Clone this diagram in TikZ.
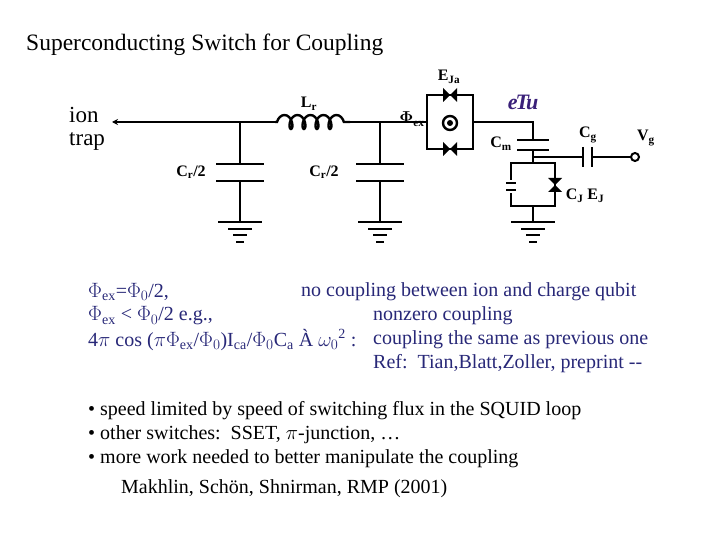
\documentclass[tikz,border=0pt]{standalone}
\usepackage{amsmath,amssymb,bm}
\usepackage{fontspec}
\setmainfont{Liberation Serif}
\usetikzlibrary{decorations.pathmorphing,arrows.meta}
\definecolor{txtblue}{RGB}{40,40,120}
\begin{document}
\begin{tikzpicture}[x=1pt,y=-1pt,line width=2.4pt,
  lbl/.style={font=\bfseries\fontsize{16}{16}\selectfont,inner sep=0pt},
  body/.style={font=\fontsize{20}{20}\selectfont,anchor=west,inner sep=0pt,text=txtblue},
  bul/.style={font=\fontsize{20}{20}\selectfont,anchor=west,inner sep=0pt},
  gnd/.pic={\draw (-22,0)--(22,0); \draw[line width=1.8pt] (-12,7)--(12,7); \draw[line width=1.8pt](-7,13)--(7,13); \draw[line width=2pt](-4,20)--(4,20);}]
\useasboundingbox (0,0) rectangle (720,540);
\fill[white] (0,0) rectangle (720,540);
\node[font=\fontsize{23.5}{23.5}\selectfont,anchor=west,inner sep=0pt] (title) at (25,45) {Superconducting Switch for Coupling};
\node[font=\fontsize{23}{23}\selectfont,align=left,anchor=west,inner sep=0pt] (ion) at (68,129) {ion\\[0pt]trap};
% main wire
\coordinate (tip) at (112,122);
\coordinate (a) at (240,122);
\coordinate (l1) at (275,122);
\coordinate (l2) at (350,122);
\coordinate (b) at (380,122);
\coordinate (sqL) at (427,122);
\draw[-{Stealth[length=6pt,width=6pt]}] (l1)--(a)--(tip);
\draw[decorate,decoration={coil,amplitude=7pt,segment length=13pt,aspect=0.6,pre length=2pt,post length=2pt}] (l1)--(l2);
\draw (l2)--(b)--(sqL);
% capacitors to ground
\foreach \x/\n in {240/c1,380/c2}{
  \draw (\x,122)--(\x,164) (\x-24,164)--(\x+24,164) (\x-24,181)--(\x+24,181) (\x,181)--(\x,222);
  \pic at (\x,222) {gnd};
}
\node[lbl] (cr1) at (191,172) {C\textsubscript{r}/2};
\node[lbl] (cr2) at (324,172) {C\textsubscript{r}/2};
\node[lbl] (lr) at (309,104) {L\textsubscript{r}};
\node[lbl] (phi) at (412,119) {$\bm{\Phi}$\textsubscript{ex}};
% SQUID
\draw (427,95) rectangle (473,149);
\foreach \y in {95,149}{
  \fill (443,\y-7)--(450,\y)--(443,\y+7)--cycle;
  \fill (457,\y-7)--(450,\y)--(457,\y+7)--cycle;
}
\draw (450,123) circle (7);
\fill (450,123) circle (3);
\node[lbl] (eja) at (449,77) {E\textsubscript{Ja}};
% right
\draw (473,122)--(533,122)--(533,140);
\draw (517,140)--(549,140) (517,150)--(549,150);
\draw (533,150)--(533,163);
\draw (533,157)--(583,157) (583,147)--(583,167) (592,147)--(592,167) (592,157)--(631,157);
\draw[line width=2pt,fill=white] (635,157) circle (4);
\draw (511,163) rectangle (555,206);
\draw (533,206)--(533,222);
\fill[white] (508,180) rectangle (514,193);
\draw (506,183)--(516,183) (506,190)--(516,190);
\fill (548,178)--(555,185)--(562,178)--cycle;
\fill (548,192)--(555,185)--(562,192)--cycle;
\pic at (533,222) {gnd};
\node[lbl] (cm) at (501,144) {C\textsubscript{m}};
\node[lbl] (cg) at (588,135) {C\textsubscript{g}};
\node[lbl] (vg) at (646,138) {V\textsubscript{g}};
\node[lbl] (cjej) at (585,196) {C\textsubscript{J} E\textsubscript{J}};
\node[font=\itshape\bfseries\fontsize{22}{22}\selectfont,text=txtblue!80!violet,inner sep=0pt] (logo) at (523,102) {e\kern-2pt T\kern-3pt u};
% text block
\node[body] (t1) at (87,292) {$\Phi_{\mathrm{ex}}$=$\Phi_0$/2,};
\node[body] (t2) at (87,316) {$\Phi_{\mathrm{ex}}$ < $\Phi_0$/2 e.g.,};
\node[body] (t3) at (87,340) {4$\pi$ cos ($\pi\Phi_{\mathrm{ex}}$/$\Phi_0$)I\textsubscript{ca}/$\Phi_0$C\textsubscript{a} À $\omega_0$\textsuperscript{2} :};
\node[body] (r1) at (300,292) {no coupling between ion and charge qubit};
\node[body] (r2) at (372,316) {nonzero coupling};
\node[body] (r3) at (372,340) {coupling the same as previous one};
\node[body] (r4) at (372,364) {Ref:\ \ Tian,Blatt,Zoller, preprint {-}{-}};
% bullets
\node[bul] (b1) at (87,411) {• speed limited by speed of switching flux in the SQUID loop};
\node[bul] (b2) at (87,435) {• other switches:\ \ SSET, $\pi$-junction, …};
\node[bul] (b3) at (87,459) {• more work needed to better manipulate the coupling};
\node[bul] (b4) at (120,489) {Makhlin, Schön, Shnirman, RMP (2001)};
\end{tikzpicture}
\end{document}
